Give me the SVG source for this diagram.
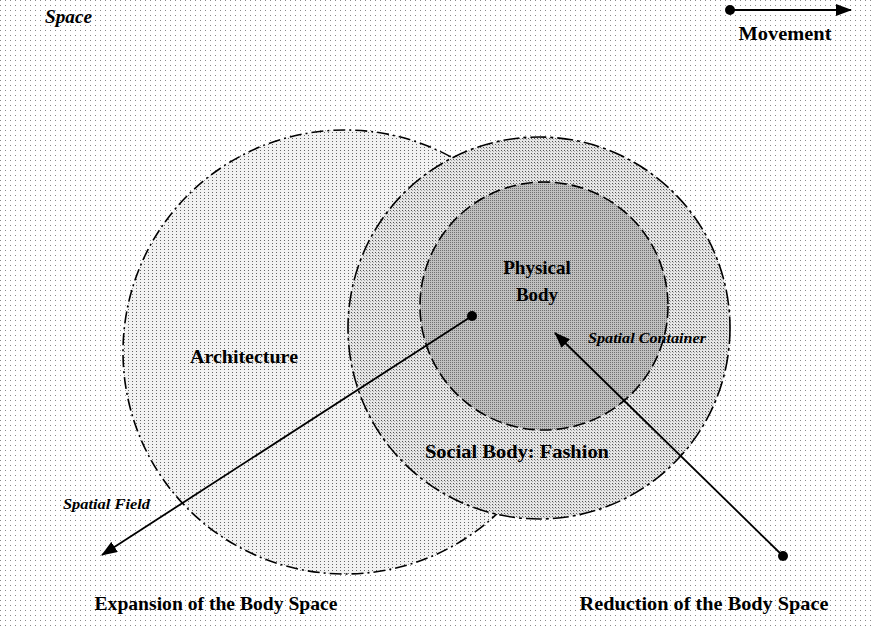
<svg xmlns="http://www.w3.org/2000/svg" width="871" height="626" viewBox="0 0 871 626">
<defs>
<pattern id="pBg" width="5" height="5" patternUnits="userSpaceOnUse"><rect width="5" height="5" fill="#ffffff"/><rect x="0" y="0" width="1" height="1" fill="#8a8a8a"/></pattern>
<pattern id="pArch" width="4" height="3" patternUnits="userSpaceOnUse"><rect width="4" height="3" fill="#f2f2f2"/><rect x="0" y="0" width="1" height="1" fill="#666"/></pattern>
<pattern id="pSoc" width="3" height="3" patternUnits="userSpaceOnUse"><rect width="3" height="3" fill="#e6e6e6"/><rect x="0" y="0" width="1" height="1" fill="#555"/><rect x="1" y="1" width="1" height="1" fill="#aaa"/></pattern>
<pattern id="pPhy" width="2" height="2" patternUnits="userSpaceOnUse"><rect width="2" height="2" fill="#c0c0c0"/><rect x="0" y="0" width="1" height="1" fill="#707070"/></pattern>
<marker id="ahB" viewBox="0 0 16 12" refX="15" refY="6" markerWidth="16" markerHeight="12" markerUnits="userSpaceOnUse" orient="auto"><path d="M0,0 L16,6 L0,12 z" fill="#000"/></marker>
</defs>
<style>
.lbl{font-family:"Liberation Serif","Times New Roman",serif;font-weight:bold;fill:#000;font-size:19px;text-anchor:middle}
.it{font-family:"Liberation Serif","Times New Roman",serif;font-style:italic;font-weight:bold;fill:#000;font-size:14px}
.sp{font-family:"Liberation Serif","Times New Roman",serif;font-style:italic;font-weight:bold;fill:#000;font-size:18px}
.circ{stroke:#000;stroke-width:1.6}
.conn{stroke:#000;stroke-width:1.8;fill:none}
</style>
<rect width="871" height="626" fill="url(#pBg)"/>
<g id="architecture">
<circle class="circ" cx="345" cy="352" r="222" fill="url(#pArch)" stroke-dasharray="12,4,2,4" stroke-width="1"/>
<text class="lbl" x="244" y="363" textLength="108" lengthAdjust="spacingAndGlyphs">Architecture</text>
</g>
<g id="social-body">
<circle class="circ" cx="539" cy="328" r="191" fill="url(#pSoc)" stroke-dasharray="16,4,3,4"/>
<text class="lbl" x="517" y="458" textLength="184" lengthAdjust="spacingAndGlyphs">Social Body: Fashion</text>
</g>
<g id="physical-body">
<circle class="circ" cx="544" cy="306" r="124" fill="url(#pPhy)" stroke-dasharray="12,5"/>
<text class="lbl" x="537" y="274">Physical</text>
<text class="lbl" x="537" y="301">Body</text>
</g>
<g id="labels">
<text class="sp" x="45" y="23" textLength="47" lengthAdjust="spacingAndGlyphs">Space</text>
<text class="it" x="588" y="343" textLength="118" lengthAdjust="spacingAndGlyphs">Spatial Container</text>
<text class="it" x="63" y="509" textLength="87" lengthAdjust="spacingAndGlyphs">Spatial Field</text>
<text class="lbl" x="216" y="610" textLength="243" lengthAdjust="spacingAndGlyphs">Expansion of the Body Space</text>
<text class="lbl" x="704" y="610" textLength="249" lengthAdjust="spacingAndGlyphs">Reduction of the Body Space</text>
<text class="lbl" x="785" y="40" textLength="93" lengthAdjust="spacingAndGlyphs">Movement</text>
</g>
<g id="connectors">
<line class="conn" x1="472" y1="316" x2="102" y2="555" marker-end="url(#ahB)"/>
<circle cx="472" cy="316" r="5" fill="#000"/>
<line class="conn" x1="783" y1="556" x2="555" y2="333" marker-end="url(#ahB)"/>
<circle cx="783" cy="556" r="5" fill="#000"/>
<line class="conn" x1="730" y1="10" x2="851" y2="10" marker-end="url(#ahB)"/>
<circle cx="730" cy="10" r="5" fill="#000"/>
</g>
</svg>
